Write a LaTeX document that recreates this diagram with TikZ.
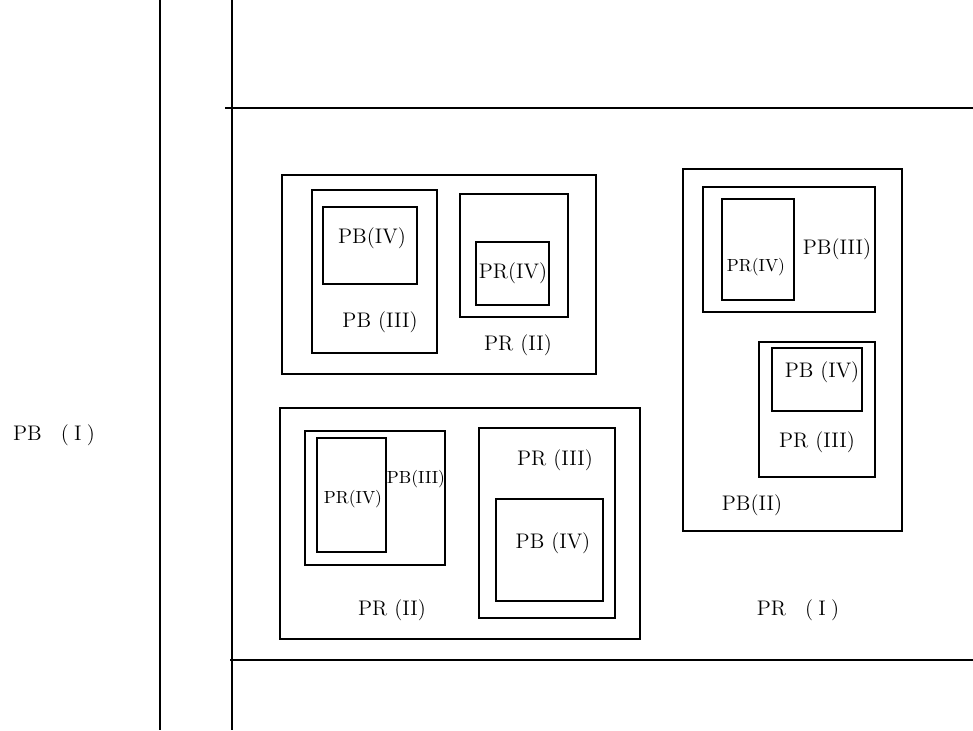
\documentclass[tikz,border=0pt]{standalone}
\begin{document}
\begin{tikzpicture}[x=0.2mm,y=-0.2mm,line width=1.1pt,
  lbl/.style={font=\large,inner sep=1pt},
  lblsm/.style={font=\normalsize,inner sep=1pt}]
\useasboundingbox (0,0) rectangle (973,730);

% border lines
\draw (160,0) -- (160,730);
\draw (232,0) -- (232,730);
\draw (225,108) -- (973,108);
\draw (230,660) -- (973,660);
\node[lbl] (pbI) at (54,435) {PB\hspace{0.9em}(\hspace{0.25em}I\hspace{0.25em})};

% top left group
\draw (282,175) rectangle (596,374);
\draw (312,190) rectangle (437,353);
\draw (323,207) rectangle (417,284);
\node[lbl] (tlPBiv) at (372,238) {PB(IV)};
\node[lbl] (tlPBiii) at (380,322) {PB (III)};
\draw (460,194) rectangle (568,317);
\draw (476,242) rectangle (549,305);
\node[lbl] (tlPRiv) at (513,273) {PR(IV)};
\node[lbl] (tlPRii) at (518,345) {PR (II)};

% bottom left group
\draw (280,408) rectangle (640,639);
\draw (305,431) rectangle (445,565);
\draw (317,438) rectangle (386,552);
\node[lblsm] (blPRiv) at (353,499) {PR(IV)};
\node[lblsm] (blPBiii) at (416,479) {PB(III)};
\draw (479,428) rectangle (615,618);
\draw (496,499) rectangle (603,601);
\node[lbl] (blPRiii) at (555,460) {PR (III)};
\node[lbl] (blPBiv) at (553,543) {PB (IV)};
\node[lbl] (blPRii) at (392,610) {PR (II)};

% right group
\draw (683,169) rectangle (902,531);
\draw (703,187) rectangle (875,312);
\draw (722,199) rectangle (794,300);
\node[lblsm] (rPRiv) at (756,267) {PR(IV)};
\node[lbl] (rPBiii) at (837,249) {PB(III)};
\draw (759,342) rectangle (875,477);
\draw (772,348) rectangle (862,411);
\node[lbl] (rPBiv) at (822,372) {PB (IV)};
\node[lbl] (rPRiii) at (817,442) {PR (III)};
\node[lbl] (rPBii) at (752,505) {PB(II)};

\node[lbl] (prI) at (798,610) {PR\hspace{0.9em}(\hspace{0.25em}I\hspace{0.25em})};
\end{tikzpicture}
\end{document}
